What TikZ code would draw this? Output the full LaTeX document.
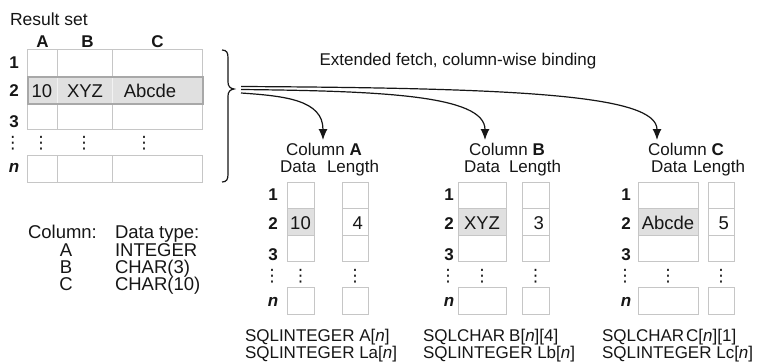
\documentclass[tikz,border=0pt]{standalone}
\usepackage{fontspec}
\setmainfont{Liberation Sans}
\newfontfamily\dotsfont{DejaVu Sans}
\usetikzlibrary{arrows.meta}
\definecolor{ink}{HTML}{161616}
\definecolor{cellline}{HTML}{C6C6C6}
\definecolor{hlfill}{HTML}{E0E0E0}
\definecolor{hlline}{HTML}{A8A8A8}
\definecolor{hldiv}{HTML}{F2F2F2}
\tikzset{
  txt/.style={text=ink, inner sep=0pt, outer sep=0pt, font=\fontsize{17}{20}\selectfont},
  sqltxt/.style={txt, font=\fontsize{17}{15}\selectfont, align=left, anchor=base west},
  legtxt/.style={txt, font=\fontsize{18.5}{22}\selectfont},
  valtxt/.style={txt, font=\fontsize{18.5}{22}\selectfont},
  rowno/.style={txt, font=\fontsize{17}{20}\selectfont\bfseries, anchor=base},
  cellbox/.style={draw=cellline, line width=1pt, inner sep=0pt, outer sep=0pt, anchor=north west},
  dotsnode/.style={txt, font=\fontsize{17}{20}\dotsfont},
  fetch/.style={draw=ink, line width=1.2pt, -{Latex[length=11pt,width=9pt]}},
  bracepath/.style={draw=ink, line width=1.2pt}
}
\begin{document}
\begin{tikzpicture}[x=1pt,y=-1pt]
\useasboundingbox (0,0) rectangle (760,362);
\fill[white] (0,0) rectangle (760,362);

% ---------- Result set ----------
\node[txt, anchor=base west, font=\fontsize{17.5}{20}\selectfont] (title) at (10,25) {Result set};
\node[rowno] (colA) at (42.5,47) {A};
\node[rowno] (colB) at (87.5,47) {B};
\node[rowno] (colC) at (157.5,47) {C};

\foreach \r/\top/\h in {1/49/27, 3/103/26, n/155/27} {
  \node[cellbox, minimum width=30pt, minimum height=\h pt] (R\r a) at (27,\top) {};
  \node[cellbox, minimum width=55pt, minimum height=\h pt] (R\r b) at (57,\top) {};
  \node[cellbox, minimum width=90pt, minimum height=\h pt] (R\r c) at (112,\top) {};
}
\node[cellbox, draw=hldiv, fill=hlfill, minimum width=30pt, minimum height=27pt] (R2a) at (27,76) {};
\node[cellbox, draw=hldiv, fill=hlfill, minimum width=55pt, minimum height=27pt] (R2b) at (57,76) {};
\node[cellbox, draw=hldiv, fill=hlfill, minimum width=90pt, minimum height=27pt] (R2c) at (112,76) {};
\node[draw=hlline, line width=1.6pt, inner sep=0pt, anchor=north west, minimum width=175pt, minimum height=27pt] (R2band) at (27,76) {};

\node[valtxt, anchor=base] (v2a) at (42,97) {10};
\node[valtxt, anchor=base] (v2b) at (85,97) {XYZ};
\node[valtxt, anchor=base] (v2c) at (150,97) {Abcde};

\foreach \r/\b/\t in {1/68/1, 2/96/2, 3/127/3, n/172/\textit{n}} {
  \node[rowno] (RL\r) at (14,\b) {\t};
}
\node[dotsnode] (RLd) at (13,143) {⋮};
\node[dotsnode] (Rda) at (41,143) {⋮};
\node[dotsnode] (Rdb) at (84,143) {⋮};
\node[dotsnode] (Rdc) at (144,143) {⋮};

% ---------- brace ----------
\draw[bracepath] (222,50) .. controls (227,50) and (228,53) .. (228,58) -- (228,82)
  .. controls (228,86) and (230,88.5) .. (234,89)
  .. controls (230,89.5) and (228,92) .. (228,96) -- (228,174)
  .. controls (228,179) and (227,182) .. (222,182);
\coordinate (brtip) at (234,89);
\coordinate (fanC) at (241,86.5);
\coordinate (fanB) at (241,89.5);
\coordinate (fanA) at (241,93);

\node[txt, anchor=base] (ext) at (458,65) {Extended fetch, column-wise binding};

% ---------- column groups ----------
\foreach \g/\lx/\dl/\dw/\ll/\lw/\hc/\dc/\lc/\val/\len in {
  A/273/287/27/342/26/324/298/353/10/4,
  B/449/458/48/522/27/507/482/535/XYZ/3,
  C/626/638/60/708/26/686/669/719/Abcde/5}
{
  \node[txt, anchor=base] (h\g) at (\hc,155) {Column \textbf{\g}};
  \node[txt, anchor=base] (dh\g) at (\dc,172) {Data};
  \node[txt, anchor=base] (lh\g) at (\lc,172) {Length};
  \foreach \r/\top/\h in {1/182/26.5, 2/208.5/26.5, 3/235/26.5, n/287/27} {
    \node[cellbox, minimum width=\dw pt, minimum height=\h pt] (d\g\r) at (\dl,\top) {};
    \node[cellbox, minimum width=\lw pt, minimum height=\h pt] (l\g\r) at (\ll,\top) {};
  }
  \node[cellbox, fill=hlfill, minimum width=\dw pt, minimum height=26.5pt] (dv\g) at (\dl,208.5) {};
  \node[valtxt, anchor=base] (v\g) at (\dl+\dw/2,229) {\val};
  \node[valtxt, anchor=base east] (lv\g) at (\ll+\lw-5,229) {\len};
  \foreach \r/\b/\t in {1/200/1, 2/229/2, 3/260/3, n/306/\textit{n}} {
    \node[rowno] (gl\g\r) at (\lx,\b) {\t};
  }
  \node[dotsnode] (gd\g) at (\lx-1,276) {⋮};
  \node[dotsnode] (dd\g) at (\dl+\dw/2,276) {⋮};
  \node[dotsnode] (ld\g) at (\ll+\lw/2,276) {⋮};
}

\coordinate (tipA) at (323,140);
\coordinate (tipB) at (485,140);
\coordinate (tipC) at (657,140);
\draw[fetch] (fanC) .. controls (520,88) and (657,95) .. (tipC);
\draw[fetch] (fanB) .. controls (380,91) and (485,95) .. (tipB);
\draw[fetch] (fanA) .. controls (285,96) and (323,100) .. (tipA);

% ---------- declarations ----------
\node[sqltxt] (sqlA) at (245,358) {SQLINTEGER A[\textit{n}]\\SQLINTEGER La[\textit{n}]};
\node[sqltxt] (sqlB) at (423,358) {SQLCHAR\hspace{4pt}B[\textit{n}][4]\\SQLINTEGER Lb[\textit{n}]};
\node[sqltxt] (sqlC) at (602,358) {SQLCHAR\hspace{2pt}C[\textit{n}][1]\\SQLINTEGER Lc[\textit{n}]};

% ---------- legend ----------
\node[legtxt, anchor=base west] (lgc) at (28,238) {Column:};
\node[legtxt, anchor=base west] (lgt) at (115,238) {Data type:};
\node[legtxt, anchor=base] (lgA) at (66,256) {A};
\node[legtxt, anchor=base west] (lgAt) at (115,256) {INTEGER};
\node[legtxt, anchor=base] (lgB) at (66,273) {B};
\node[legtxt, anchor=base west] (lgBt) at (115,273) {CHAR(3)};
\node[legtxt, anchor=base] (lgC) at (66,290) {C};
\node[legtxt, anchor=base west] (lgCt) at (115,290) {CHAR(10)};
\end{tikzpicture}
\end{document}
